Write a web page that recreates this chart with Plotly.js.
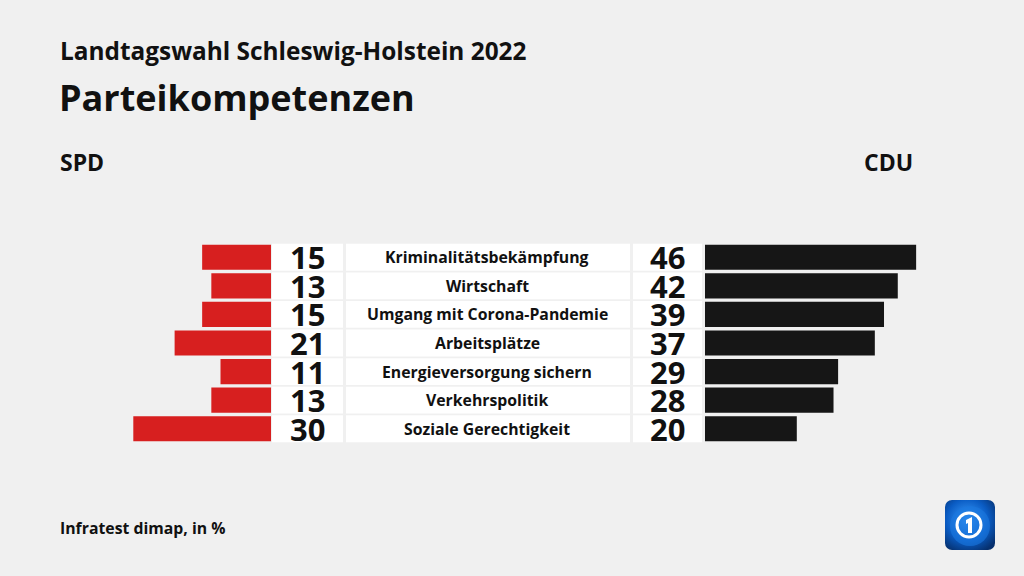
<!DOCTYPE html>
<html>
<head>
<meta charset="utf-8">
<script src="https://cdn.plot.ly/plotly-3.0.1.min.js"></script>
<style>
  html, body { margin: 0; padding: 0; background: #f0f0f0; }
  #chart { width: 1024px; height: 576px; }
</style>
</head>
<body>
<div id="chart"></div>
<script>
const categories = ["Kriminalitätsbekämpfung", "Wirtschaft", "Umgang mit Corona-Pandemie", "Arbeitsplätze", "Energieversorgung sichern", "Verkehrspolitik", "Soziale Gerechtigkeit"];
const spdValues = [15, 13, 15, 21, 11, 13, 30];
const cduValues = [46, 42, 39, 37, 29, 28, 20];
const leftParty = "SPD";
const rightParty = "CDU";
const titleText = "Landtagswahl Schleswig-Holstein 2022";
const subtitleText = "Parteikompetenzen";
const sourceText = "Infratest dimap, in %";

const W = 1024, H = 576;
const FONT = "Open Sans, Lato, DejaVu Sans, sans-serif";
const scale = 4.59; // px per percentage point
const leftEnd = 271, rightStart = 705;
const plotTop = 243, plotBottom = 443;
const px = v => v / W;
const py = v => 1 - v / H;

const traces = [
  { type: "bar", orientation: "h", y: categories, x: spdValues, xaxis: "x", yaxis: "y",
    marker: { color: "#d71f1f" }, hoverinfo: "skip" },
  { type: "bar", orientation: "h", y: categories, x: cduValues, xaxis: "x2", yaxis: "y",
    marker: { color: "#161616" }, hoverinfo: "skip" }
];

const shapes = [];
const annotations = [];
const boxes = [[272, 343], [346, 630], [633, 702]];
categories.forEach((c, i) => {
  boxes.forEach(b => {
    shapes.push({ type: "rect", xref: "paper", yref: "y", x0: px(b[0]), x1: px(b[1]),
      y0: i - 0.47, y1: i + 0.47, fillcolor: "#ffffff", line: { width: 0 }, layer: "below" });
  });
  annotations.push({ xref: "paper", yref: "y", x: px(307.5), y: c, text: String(spdValues[i]),
    showarrow: false, xanchor: "center", yanchor: "middle",
    font: { family: FONT, size: 31, color: "#111", weight: 700 } });
  annotations.push({ xref: "paper", yref: "y", x: px(667.5), y: c, text: String(cduValues[i]),
    showarrow: false, xanchor: "center", yanchor: "middle",
    font: { family: FONT, size: 31, color: "#111", weight: 700 } });
  annotations.push({ xref: "paper", yref: "y", x: px(487), y: c, text: c,
    showarrow: false, xanchor: "center", yanchor: "middle",
    font: { family: FONT, size: 15.8, color: "#111", weight: 700 } });
});

annotations.push({ xref: "paper", yref: "paper", x: px(58), y: py(51), text: titleText,
  showarrow: false, xanchor: "left", yanchor: "middle",
  font: { family: FONT, size: 24.4, color: "#111", weight: 700 } });
annotations.push({ xref: "paper", yref: "paper", x: px(57), y: py(98), text: subtitleText,
  showarrow: false, xanchor: "left", yanchor: "middle",
  font: { family: FONT, size: 36, color: "#111", weight: 700 } });
annotations.push({ xref: "paper", yref: "paper", x: px(58), y: py(162), text: leftParty,
  showarrow: false, xanchor: "left", yanchor: "middle",
  font: { family: FONT, size: 23, color: "#111", weight: 700 } });
annotations.push({ xref: "paper", yref: "paper", x: px(915), y: py(162), text: rightParty,
  showarrow: false, xanchor: "right", yanchor: "middle",
  font: { family: FONT, size: 23, color: "#111", weight: 700 } });
annotations.push({ xref: "paper", yref: "paper", x: px(58), y: py(528), text: sourceText,
  showarrow: false, xanchor: "left", yanchor: "middle",
  font: { family: FONT, size: 15.8, color: "#111", weight: 700 } });

const logoSvg = '<svg xmlns="http://www.w3.org/2000/svg" width="100" height="100" viewBox="0 0 100 100">' +
  '<defs><radialGradient id="g" cx="45%" cy="40%" r="70%"><stop offset="0" stop-color="#3fa0ff"/>' +
  '<stop offset="0.6" stop-color="#0a5cc4"/><stop offset="1" stop-color="#06306e"/></radialGradient></defs>' +
  '<rect x="0" y="0" width="100" height="100" rx="14" fill="url(#g)"/>' +
  '<circle cx="50" cy="52" r="40" fill="#1a78e0" opacity="0.6"/>' +
  '<circle cx="48" cy="50" r="24" fill="none" stroke="#ffffff" stroke-width="6"/>' +
  '<path d="M42 40 L54 34 L54 66 L46 66 L46 46 L42 48 Z" fill="#ffffff"/>' +
  '</svg>';

const layout = {
  width: W, height: H,
  margin: { l: 0, r: 0, t: 0, b: 0 },
  paper_bgcolor: "#f0f0f0", plot_bgcolor: "rgba(0,0,0,0)",
  showlegend: false,
  bargap: 0.12,
  xaxis: { domain: [0, px(leftEnd)], range: [leftEnd / scale, 0], visible: false, fixedrange: true },
  xaxis2: { domain: [px(rightStart), 1], range: [0, (W - rightStart) / scale], visible: false, fixedrange: true },
  yaxis: { domain: [1 - plotBottom / H, 1 - plotTop / H], type: "category",
    categoryorder: "array", categoryarray: categories, range: [6.5, -0.5],
    visible: false, fixedrange: true },
  shapes: shapes,
  annotations: annotations,
  images: [{ source: "data:image/svg+xml;charset=utf-8," + encodeURIComponent(logoSvg),
    xref: "paper", yref: "paper", x: px(945), y: py(500), sizex: px(50), sizey: 50 / H,
    sizing: "stretch", xanchor: "left", yanchor: "top", layer: "above" }]
};

Plotly.newPlot("chart", traces, layout, { staticPlot: true, displayModeBar: false });
</script>
</body>
</html>
